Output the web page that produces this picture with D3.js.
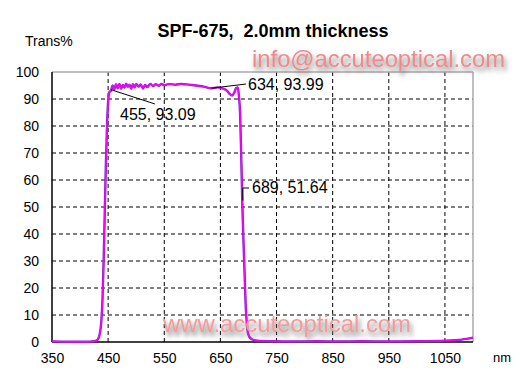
<!DOCTYPE html>
<html>
<head>
<meta charset="utf-8">
<script src="https://cdn.jsdelivr.net/npm/d3@7"></script>
<style>
  body { margin: 0; background: #fff; }
  svg { font-family: "Liberation Sans", Arial, sans-serif; }
</style>
</head>
<body>
<svg id="chart"></svg>
<script>
// spectrum
var wavelength = [350,380,410,425,430,433,436,438,440,442,444,446,448,450,452,455,
  458,461,464,467,470,473,476,479,482,485,488,491,494,497,500,504,508,512,516,520,
  525,530,535,540,545,550,555,560,570,580,590,600,610,620,634,645,655,662,667,671,
  675,678,681,683,685,687,689,691,693,695,697,699,702,706,712,720,740,780,820,860,
  900,950,1000,1050,1080,1100];
var trans = [0.2,0.1,0.1,0.3,0.6,1.5,4,8,16,30,48,66,80,89,92.5,93.09,
  95,93.5,95.5,94,95.6,93.8,95.2,94.2,95.7,94.5,95.3,93.8,95.5,94.3,95.6,94.6,95.4,93.9,95.2,94.4,
  95.6,94.8,95.5,94.9,95.6,95.1,95.4,95.5,95.3,95.6,95.4,95.2,94.9,94.6,93.99,94.3,93.8,93,91.8,91.3,
  92.5,94,94.3,91,85,70,51.64,38,26,14,7,3.5,1.8,1,0.6,0.4,0.3,0.2,0.3,0.2,
  0.3,0.2,0.3,0.5,0.9,1.6];

var xTicks = [350,450,550,650,750,850,950,1050];
var yTicks = [0,10,20,30,40,50,60,70,80,90,100];

var notes = [
  {wl: 455, t: 93.09, label: "455, 93.09"},
  {wl: 634, t: 93.99, label: "634, 93.99"},
  {wl: 689, t: 51.64, label: "689, 51.64"}
];

var width = 520, height = 372;
var svg = d3.select("#chart").attr("width", width).attr("height", height);

var x = d3.scaleLinear().domain([350, 1100]).range([52, 473]);
var y = d3.scaleLinear().domain([0, 100]).range([342, 72]);

var defs = svg.append("defs");
var f = defs.append("filter").attr("id", "shadow")
  .attr("x", "-10%").attr("y", "-30%").attr("width", "120%").attr("height", "190%");
f.append("feDropShadow").attr("dx", 2).attr("dy", 4)
  .attr("stdDeviation", 2.5).attr("flood-color", "#666").attr("flood-opacity", 0.85);

// title and axis names
svg.append("text").attr("x", 273).attr("y", 37).attr("text-anchor", "middle")
  .attr("font-size", 18).attr("font-weight", "bold")
  .text("SPF-675,\u00a0 2.0mm thickness");
svg.append("text").attr("x", 25).attr("y", 46).attr("font-size", 14).text("Trans%");
svg.append("text").attr("x", 493).attr("y", 362).attr("font-size", 13).text("nm");

// dashed grid
svg.append("g").selectAll("line").data(yTicks.filter(d => d > 0 && d < 100)).enter()
  .append("line")
    .attr("x1", x(350)).attr("x2", x(1100))
    .attr("y1", d => y(d)).attr("y2", d => y(d))
    .attr("stroke", "#000").attr("stroke-dasharray", "4,3");
svg.append("g").selectAll("line").data(xTicks.filter(d => d > 350)).enter()
  .append("line")
    .attr("x1", d => x(d)).attr("x2", d => x(d))
    .attr("y1", y(0)).attr("y2", y(100))
    .attr("stroke", "#000").attr("stroke-dasharray", "4,3");

// frame
svg.append("line").attr("x1", x(350)).attr("x2", x(1100)).attr("y1", y(100)).attr("y2", y(100))
  .attr("stroke", "#aaa").attr("stroke-width", 1.5);
svg.append("line").attr("x1", x(1100)).attr("x2", x(1100)).attr("y1", y(100)).attr("y2", y(0))
  .attr("stroke", "#aaa").attr("stroke-width", 1.5);

// axes
var xAxis = svg.append("g").attr("transform", "translate(0," + y(0) + ")")
  .call(d3.axisBottom(x).tickValues(xTicks).tickFormat(d3.format("d")).tickSize(0).tickPadding(11));
var yAxis = svg.append("g").attr("transform", "translate(" + x(350) + ",0)")
  .call(d3.axisLeft(y).tickValues(yTicks).tickFormat(d3.format("d")).tickSize(0).tickPadding(13));
[xAxis, yAxis].forEach(function(a){
  a.select(".domain").attr("stroke", "#000").attr("stroke-width", 1.5);
  a.selectAll("text").attr("font-size", 14).attr("font-family", "Liberation Sans, Arial, sans-serif").attr("fill", "#000");
});
xAxis.select(".domain").attr("d", "M" + x(350) + ",0H" + x(1100));
yAxis.select(".domain").attr("d", "M0," + y(0) + "V" + y(100));

// curve
var pts = wavelength.map((w, i) => [w, trans[i]]);
var line = d3.line().x(d => x(d[0])).y(d => y(d[1])).curve(d3.curveMonotoneX);
svg.append("path").datum(pts).attr("d", line)
  .attr("fill", "none").attr("stroke", "#8a1ccf").attr("stroke-width", 2.4);
svg.append("path").datum(pts).attr("d", line)
  .attr("fill", "none").attr("stroke", "#ff00ff").attr("stroke-width", 1.3);

// annotations
var n0 = notes[0], n1 = notes[1], n2 = notes[2];
svg.append("line").attr("x1", x(n0.wl)).attr("y1", y(n0.t) - 1).attr("x2", 155).attr("y2", 104)
  .attr("stroke", "#000");
svg.append("text").attr("x", 120).attr("y", 120).attr("font-size", 16).text(n0.label);
svg.append("line").attr("x1", x(n1.wl)).attr("y1", y(n1.t)).attr("x2", 246).attr("y2", 84)
  .attr("stroke", "#000");
svg.append("text").attr("x", 248).attr("y", 90).attr("font-size", 16).text(n1.label);
svg.append("path")
  .attr("d", "M" + (x(n2.wl) + 0.5) + "," + (y(n2.t) - 2) + "V188H249")
  .attr("fill", "none").attr("stroke", "#000");
svg.append("text").attr("x", 252).attr("y", 193).attr("font-size", 16).text(n2.label);

// watermarks
svg.append("text").attr("x", 252).attr("y", 67).attr("font-size", 24)
  .attr("textLength", 253).attr("lengthAdjust", "spacingAndGlyphs")
  .attr("fill", "#f08a8a").attr("filter", "url(#shadow)").text("info@accuteoptical.com");
svg.append("text").attr("x", 163).attr("y", 332).attr("font-size", 24)
  .attr("textLength", 248).attr("lengthAdjust", "spacingAndGlyphs")
  .attr("fill", "#f49a9a").attr("filter", "url(#shadow)").text("www.accuteoptical.com");
</script>
</body>
</html>
